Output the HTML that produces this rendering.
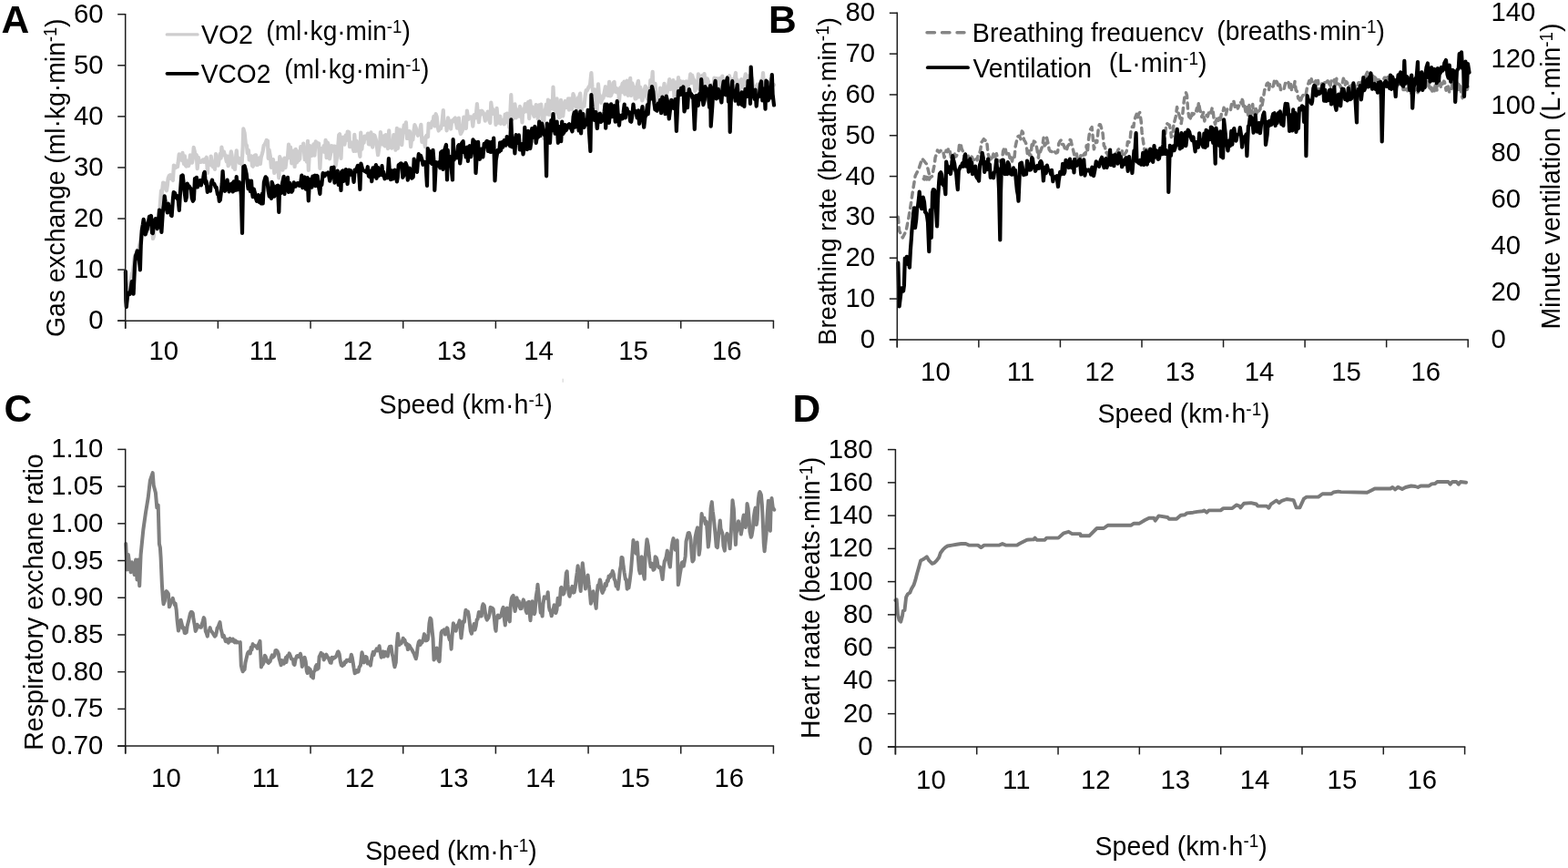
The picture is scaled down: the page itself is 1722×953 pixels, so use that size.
<!DOCTYPE html>
<html><head><meta charset="utf-8"><title>Figure</title>
<style>html,body{margin:0;padding:0;background:#fff;overflow:hidden}svg{display:block}</style>
</head><body>
<svg width="1722" height="953" viewBox="0 0 1722 953" font-family="'Liberation Sans', Arial, sans-serif" fill="#000"><rect width="1722" height="953" fill="#fff"/><path d="M138.8 332.6L139.7 326.8L140.7 320.4L141.7 314.4L143.0 307.8L143.9 306.3L144.9 300.1L145.7 299.9L146.9 289.8L147.6 283.6L148.6 279.9L150.0 280.0L150.6 274.6L152.0 275.7L153.0 270.0L153.9 266.2L154.6 261.4L155.7 255.6L157.0 243.9L157.8 242.3L158.9 249.5L159.6 254.9L160.6 255.1L161.8 252.7L162.9 248.3L163.8 239.9L164.6 237.2L166.0 241.3L166.6 244.6L168.0 262.0L168.8 259.8L169.7 250.8L170.8 244.0L172.0 241.4L172.8 251.3L173.8 242.6L175.0 241.6L175.7 226.1L177.0 209.4L177.7 213.5L179.1 200.6L180.0 206.5L180.6 201.1L182.0 206.6L183.0 209.3L184.0 202.1L184.6 196.0L185.7 193.0L186.9 192.1L187.8 196.1L188.6 194.9L189.9 198.0L190.9 181.5L192.0 182.7L192.6 184.3L193.7 183.6L195.0 183.1L195.6 178.9L196.7 169.4L197.8 169.9L198.8 171.9L199.8 176.1L200.5 167.9L201.9 179.8L202.9 171.4L203.8 181.8L204.7 182.6L205.8 176.7L207.0 182.2L208.0 179.2L208.9 170.4L209.8 178.0L211.0 178.6L211.9 174.0L212.7 161.9L213.8 166.6L214.6 172.1L215.8 170.0L216.7 185.2L217.9 172.9L219.0 177.7L220.0 177.9L221.0 177.9L221.6 177.4L222.9 175.4L224.0 177.8L225.0 174.8L225.8 174.4L226.8 172.8L228.0 190.0L228.6 178.2L230.0 178.0L231.0 180.8L231.7 171.5L233.0 182.0L233.7 182.9L234.6 182.2L235.9 185.9L237.0 169.1L237.6 181.0L239.0 175.7L239.7 181.7L240.6 174.6L241.7 168.8L242.6 173.6L243.4 161.6L244.7 170.5L245.9 166.5L246.8 169.8L247.6 171.5L248.8 177.3L250.0 171.5L250.6 182.1L252.0 179.7L252.6 175.7L253.8 166.4L254.6 170.6L256.0 183.8L256.8 175.4L258.0 186.0L258.9 174.4L259.8 165.3L260.7 177.3L262.0 173.6L263.0 179.2L263.9 178.3L265.0 174.0L265.6 180.2L266.7 160.8L267.3 141.4L268.6 146.0L269.8 158.0L271.0 159.9L271.7 168.1L272.9 165.0L273.7 175.5L274.9 175.8L276.0 171.4L277.0 182.0L277.8 182.7L278.7 178.0L279.6 170.8L281.0 170.3L282.0 181.1L282.8 181.0L283.9 175.0L284.7 173.5L285.9 179.9L286.7 172.9L287.9 168.9L288.6 166.2L289.7 159.8L290.7 158.8L291.2 157.8L292.7 154.0L294.0 154.6L294.7 173.9L295.6 164.5L296.9 172.1L297.9 183.8L298.7 180.6L300.0 175.1L301.3 190.0L301.8 186.9L303.0 188.1L304.0 178.8L305.0 182.5L306.3 195.4L307.2 172.2L308.0 174.2L309.1 176.1L310.5 186.6L311.7 179.3L312.4 173.5L313.5 184.1L314.9 173.4L315.9 173.7L317.0 158.6L318.0 172.8L319.0 161.6L320.3 179.3L321.3 172.4L322.4 165.6L323.6 183.0L324.8 163.8L325.9 178.5L327.0 166.4L327.7 176.4L329.2 174.5L330.2 161.1L331.5 161.8L332.6 163.9L333.2 157.5L334.8 175.2L335.6 169.1L336.9 177.6L338.0 154.8L338.8 187.0L340.3 160.1L341.3 168.1L342.5 170.8L343.4 163.6L344.4 158.4L345.4 170.7L346.7 155.4L347.9 156.7L348.9 159.1L350.1 157.4L351.4 185.0L352.5 165.4L353.3 163.1L354.6 166.3L355.6 160.2L356.8 167.1L357.6 153.8L358.6 173.2L359.9 156.6L360.9 159.6L362.0 174.3L363.5 166.9L364.2 160.0L365.6 165.6L366.3 160.6L367.7 160.6L368.6 181.9L369.7 175.1L370.8 166.3L372.2 148.2L373.1 147.3L374.5 174.0L375.5 150.8L376.4 154.7L377.3 150.7L378.4 158.7L379.8 148.3L380.8 153.8L381.7 144.5L383.3 145.2L384.0 161.2L385.4 160.4L386.2 156.6L387.5 162.3L388.5 165.9L389.3 147.8L390.8 165.9L391.7 154.9L392.9 165.3L394.1 163.7L395.4 172.0L396.2 145.5L397.4 163.8L398.4 152.9L399.6 156.7L400.4 149.5L402.0 149.9L402.6 152.1L404.0 146.6L404.8 158.2L405.9 158.5L407.4 145.4L408.4 152.1L409.2 161.6L410.4 148.2L411.4 148.6L412.9 153.6L414.0 161.5L415.1 170.2L416.1 163.7L417.2 156.7L417.9 145.0L419.1 155.3L420.3 158.5L421.5 149.3L422.8 160.3L423.7 148.0L424.7 152.7L426.0 163.1L427.2 143.4L428.1 161.6L429.2 158.7L430.2 162.6L431.5 158.0L432.3 148.2L433.7 156.8L434.5 164.7L435.9 140.9L436.9 162.9L438.2 145.8L439.1 142.4L440.4 153.2L441.3 159.1L442.1 148.6L443.8 137.4L444.7 144.2L445.9 134.3L447.0 152.0L447.7 143.8L449.2 146.0L449.9 144.3L451.1 161.2L452.1 152.4L453.4 153.3L454.3 144.8L455.4 137.1L456.7 140.2L457.6 145.7L458.9 148.8L460.1 145.4L460.8 144.4L462.4 136.8L463.4 156.0L464.5 151.5L465.6 153.2L466.9 161.1L467.5 150.4L468.6 148.6L470.0 150.2L470.7 135.7L472.2 136.0L473.3 140.1L474.5 133.6L475.2 136.0L476.4 127.8L477.7 138.4L478.6 125.1L479.7 128.3L480.7 139.3L481.7 143.5L483.1 141.2L484.0 141.2L485.3 136.5L486.8 121.0L487.5 136.9L488.7 134.7L489.9 134.4L490.6 143.3L492.0 129.4L493.1 132.8L494.1 138.0L495.1 141.5L496.1 132.5L497.3 133.6L498.5 130.9L499.9 129.5L500.6 133.3L502.0 140.6L503.1 138.7L503.9 129.7L505.1 143.0L505.9 147.0L507.6 143.7L508.4 141.4L509.3 128.7L510.8 132.2L511.9 141.0L512.9 121.7L514.2 131.0L514.9 129.5L516.1 128.4L517.2 128.4L518.4 130.7L519.3 138.6L520.6 126.3L521.6 125.9L522.6 129.3L523.9 114.1L524.8 125.5L525.9 134.2L527.4 122.2L528.1 125.7L529.2 121.7L530.7 123.8L531.7 126.1L532.8 132.7L533.5 125.4L535.0 128.0L535.7 122.5L537.1 131.6L538.3 135.0L539.3 112.7L540.1 118.7L541.5 120.3L542.3 125.2L543.8 122.8L544.5 136.9L545.6 118.8L546.8 134.9L548.0 130.7L549.3 127.6L550.0 135.8L551.5 132.9L552.4 131.7L553.8 136.3L554.7 125.6L555.5 134.5L556.8 124.6L558.0 125.4L559.2 139.7L560.1 129.9L561.3 104.1L562.4 129.1L563.2 130.6L564.6 122.5L565.5 114.4L566.8 129.3L567.6 120.3L568.8 126.7L569.9 127.6L571.0 116.9L572.5 120.8L573.5 134.3L574.2 122.2L575.5 123.1L576.8 114.1L577.9 115.2L578.6 122.3L580.0 112.2L581.2 130.2L582.3 110.8L583.2 122.3L584.3 117.3L585.2 123.9L586.6 127.8L587.5 122.9L588.6 115.2L589.8 115.8L590.7 130.5L592.0 115.3L593.0 122.6L594.2 114.6L595.1 124.9L597.0 152.0L597.7 121.6L598.7 122.3L599.9 114.5L601.0 125.3L601.9 109.7L603.1 125.9L603.9 112.0L605.2 110.8L606.6 119.5L607.5 95.7L608.8 120.5L609.5 117.7L610.5 122.8L611.6 108.4L612.6 125.2L614.1 129.1L615.2 128.5L616.0 109.8L617.5 123.4L618.3 127.4L619.4 115.8L620.7 111.0L621.4 118.1L622.8 118.0L624.0 108.3L625.0 120.7L626.0 108.4L627.4 114.9L628.3 119.8L629.4 103.1L630.4 105.6L631.9 116.3L632.5 116.1L633.7 119.1L635.0 107.3L635.9 107.2L637.2 102.6L638.3 124.6L639.3 116.6L640.6 116.4L641.6 116.6L642.7 104.9L643.7 99.1L644.8 99.5L646.1 96.4L647.2 94.5L648.0 93.5L649.4 80.0L650.4 95.2L651.4 102.2L652.5 103.2L653.6 98.5L655.0 140.0L656.1 107.1L657.0 92.4L657.8 103.1L659.0 105.3L660.1 112.8L661.6 107.5L662.4 108.0L663.6 101.8L664.9 95.2L665.9 104.3L666.7 101.4L667.8 104.9L669.1 89.9L670.1 105.4L670.9 105.1L672.3 101.3L673.6 91.0L674.6 90.0L675.4 100.6L676.8 96.7L677.6 101.4L679.2 98.5L680.0 110.9L681.3 96.1L682.3 98.1L683.6 91.7L684.4 101.3L685.5 89.7L686.4 103.5L687.8 90.9L688.7 88.6L689.8 104.8L691.0 95.8L692.2 85.9L693.0 105.0L694.3 91.3L695.1 94.8L696.2 95.5L697.6 108.5L698.8 108.0L699.8 93.3L701.0 88.9L702.2 106.5L703.1 95.5L704.4 100.7L705.3 110.5L706.6 105.9L707.6 99.5L708.7 94.6L709.7 96.7L711.0 108.3L712.0 103.8L713.2 108.1L714.3 88.2L715.3 97.7L716.7 78.8L717.6 105.8L718.6 100.4L719.5 91.8L720.9 110.1L721.7 105.5L722.6 104.9L724.2 113.4L725.0 96.5L726.1 110.2L727.3 109.8L728.2 102.9L729.5 91.8L730.5 99.0L731.4 104.8L732.7 101.4L734.0 94.5L735.2 87.1L736.2 98.1L737.5 90.5L738.4 95.6L739.3 88.0L740.6 108.2L741.7 109.4L742.9 90.2L743.8 102.3L745.0 85.0L745.8 101.0L747.0 88.8L748.2 91.9L749.2 91.7L750.3 89.7L751.4 92.1L752.7 103.9L753.7 89.4L754.7 106.4L755.7 94.3L757.2 89.4L758.2 81.4L759.3 91.1L760.1 82.5L761.0 86.0L762.4 88.3L763.3 100.0L764.5 95.6L766.1 96.0L766.9 81.3L768.1 97.8L769.3 92.7L770.2 83.6L771.5 82.7L772.5 90.1L773.5 81.1L774.8 92.9L775.5 93.2L776.7 86.3L777.9 89.5L778.9 95.6L779.9 102.2L781.2 100.4L782.4 92.5L783.3 101.2L784.4 85.7L785.7 99.1L787.0 86.0L787.7 91.3L788.7 97.2L790.1 86.0L791.1 85.9L792.3 94.7L793.3 83.5L794.6 98.0L795.6 102.0L796.6 96.7L797.8 104.8L798.9 96.3L799.7 84.6L801.0 83.2L801.9 89.7L803.3 93.1L804.3 87.3L805.6 88.8L806.4 87.5L808.0 80.0L808.5 89.7L809.6 87.7L810.8 102.5L811.9 104.7L813.1 91.6L814.1 87.1L815.4 92.5L816.6 96.0L817.7 86.6L818.8 81.3L819.5 88.4L820.6 88.9L822.1 83.3L823.2 96.1L824.4 86.2L825.4 84.9L826.3 87.4L827.3 99.0L828.2 95.8L829.6 96.3L830.5 95.2L831.8 92.6L832.7 103.5L833.8 97.7L835.0 92.1L836.2 87.9L837.1 91.6L838.0 80.0L839.7 104.2L840.6 94.6L841.9 103.9L842.7 97.4L843.7 96.9L844.9 96.3L846.3 86.9L847.3 97.6L848.2 91.8L850.0 93.2" fill="none" stroke="#cecdce" stroke-width="4.2" stroke-linejoin="round" stroke-linecap="round" /><path d="M137.9 298.0L138.3 330.0L138.8 337.1L140.0 325.2L140.8 321.9L141.7 321.3L142.6 323.0L143.7 316.3L144.8 309.0L145.6 318.6L146.6 322.7L148.0 291.9L148.9 281.2L149.7 278.9L150.8 275.5L152.0 281.0L153.0 286.0L153.9 296.3L154.7 269.7L155.8 252.9L156.9 246.6L157.7 240.9L158.8 245.6L159.7 257.5L161.0 252.7L161.6 251.9L162.9 244.1L164.0 237.8L164.7 241.6L166.0 236.9L167.0 255.6L167.8 256.0L168.9 245.7L169.6 242.0L170.8 240.1L171.8 246.4L172.7 251.1L173.7 246.3L175.0 230.7L175.7 239.4L176.6 243.8L177.4 254.8L178.8 232.7L179.9 224.9L180.7 215.4L181.7 222.1L182.9 229.0L183.8 233.4L184.8 223.7L185.7 227.8L186.6 226.9L188.0 236.6L188.6 237.0L190.0 217.7L190.7 211.1L192.0 211.8L192.7 216.6L194.0 214.7L194.8 218.2L195.7 219.1L196.8 230.8L197.9 212.1L199.3 193.0L199.8 195.1L200.7 192.4L201.9 203.4L202.6 210.5L203.9 220.2L204.9 216.3L205.7 201.6L206.9 206.3L207.6 204.2L208.7 206.3L209.9 207.5L210.7 217.3L211.9 220.8L212.9 219.0L214.0 196.1L215.0 205.1L215.9 194.9L217.0 205.5L217.6 203.1L218.9 202.7L220.0 198.0L220.8 203.5L221.8 199.0L222.8 198.3L224.0 190.2L224.7 188.9L225.8 201.5L226.6 199.1L227.8 210.8L228.9 205.6L230.0 205.3L231.0 209.6L231.7 201.0L233.0 197.7L233.6 201.2L235.0 201.7L235.6 202.6L236.8 205.9L237.6 205.7L239.0 213.4L240.0 214.1L240.8 220.8L241.8 219.7L242.7 212.3L243.8 201.3L244.6 188.0L245.6 201.7L247.0 209.8L247.7 208.0L248.8 205.5L249.6 197.7L250.6 204.7L251.6 210.4L252.7 208.2L254.0 201.8L255.0 201.3L255.8 210.5L256.8 199.4L257.9 202.5L259.0 208.8L259.7 194.0L260.9 208.3L261.7 199.6L262.8 200.0L263.9 203.9L264.8 213.7L266.0 256.0L266.9 203.9L267.3 183.0L268.6 182.3L269.6 185.8L270.7 191.2L271.7 200.4L272.6 207.2L273.7 198.5L274.9 210.0L276.0 198.5L276.7 209.7L277.7 216.2L278.8 207.6L279.9 211.7L280.9 217.5L282.0 220.8L282.7 217.5L283.9 214.2L284.7 221.8L286.2 220.8L286.7 223.4L288.0 212.7L288.7 223.3L289.9 200.0L291.2 195.6L291.7 194.3L292.8 195.6L293.6 200.3L294.6 209.1L295.8 215.7L296.8 210.5L298.0 218.0L298.6 199.9L299.8 203.4L301.3 215.7L301.8 207.4L302.9 213.9L303.8 204.5L305.0 203.6L306.3 233.0L307.1 204.9L308.3 212.2L309.0 208.2L310.2 200.5L311.7 193.8L312.4 213.0L313.5 201.1L315.0 203.4L316.0 194.9L316.9 211.0L318.1 200.8L319.3 208.4L320.2 210.7L321.2 209.3L322.7 200.3L323.7 204.4L324.7 204.7L326.0 201.7L326.9 201.2L328.3 201.4L328.9 203.9L330.2 200.6L331.3 192.7L332.3 206.2L333.6 195.3L334.5 194.4L335.9 207.6L337.0 198.5L337.7 195.1L338.8 220.5L340.0 197.5L341.0 196.9L342.5 205.7L343.4 193.6L344.3 193.7L345.7 192.7L346.5 204.1L348.0 192.9L348.7 193.6L349.7 202.8L351.4 213.0L352.1 200.1L353.3 203.0L354.6 190.1L355.6 191.0L356.5 193.3L357.4 190.6L358.6 191.4L360.2 189.5L361.0 191.5L362.2 198.7L363.0 196.4L364.0 184.1L365.6 189.9L366.5 183.5L367.5 200.6L368.6 197.4L369.6 196.7L370.7 187.6L371.7 202.9L373.3 195.7L374.5 209.0L375.1 188.6L376.5 187.4L377.3 198.9L378.4 198.0L379.8 186.0L381.0 196.5L381.6 202.0L383.2 186.6L383.9 190.5L385.0 187.2L386.0 191.8L387.3 190.6L388.6 199.9L389.6 186.5L390.9 188.4L391.6 185.6L392.8 181.8L393.9 184.6L395.4 208.0L396.4 179.5L397.2 182.6L398.4 187.0L399.4 187.0L400.7 188.1L401.4 188.0L402.6 189.2L403.8 183.2L404.9 193.3L406.3 194.4L407.3 187.5L408.3 199.2L409.5 184.3L410.6 193.7L411.8 185.5L412.9 181.1L413.6 195.8L415.0 183.8L415.8 192.9L417.1 192.2L418.4 190.8L419.5 182.2L420.5 192.6L421.2 188.9L422.5 196.3L423.5 192.9L425.1 192.0L425.7 195.3L426.9 174.2L428.0 191.1L429.0 197.1L430.5 187.3L431.5 196.4L432.3 191.2L433.6 186.7L434.5 191.7L435.9 199.4L436.8 194.6L437.7 181.3L438.9 180.5L440.2 179.3L441.4 180.2L442.3 194.9L443.6 192.1L444.5 182.1L445.5 179.1L446.7 182.0L447.8 197.6L449.2 191.1L449.9 184.6L451.0 189.8L452.3 195.7L453.7 194.5L454.7 174.7L455.7 181.8L456.5 185.8L458.0 188.8L459.0 176.6L459.8 169.2L461.1 175.3L462.0 170.9L463.5 175.7L464.5 180.8L465.7 177.8L466.7 178.1L467.6 180.3L469.0 204.0L469.8 163.1L470.8 171.4L472.0 166.1L473.2 178.5L474.2 179.8L475.5 164.8L476.6 179.0L477.3 209.0L478.8 178.1L479.7 179.4L481.0 181.7L481.9 178.1L483.3 184.4L484.2 167.2L485.3 166.2L486.5 185.9L487.5 166.2L488.5 163.8L490.0 159.0L491.0 197.5L491.8 164.9L493.0 180.0L493.8 171.8L495.0 178.5L497.0 197.5L497.6 153.2L498.6 175.4L499.8 170.6L500.8 172.5L501.7 173.2L503.0 160.4L503.9 159.1L505.2 179.4L506.1 171.4L507.1 157.3L508.6 155.1L509.6 167.1L510.7 163.6L511.7 172.4L513.0 161.7L513.9 176.8L515.0 161.7L515.9 160.2L517.2 172.2L518.5 163.4L519.5 153.3L520.7 158.9L521.6 155.5L522.5 190.0L523.6 172.8L525.1 155.9L525.9 170.9L526.9 174.8L528.3 163.6L529.3 170.9L530.4 172.4L531.7 157.9L532.4 161.4L533.8 156.1L534.8 154.9L535.9 165.8L537.0 155.9L537.9 166.7L539.2 166.8L540.5 155.5L541.2 165.8L542.2 151.7L543.5 198.5L544.7 175.9L546.1 168.0L546.6 164.8L548.3 166.5L549.1 156.7L550.0 165.1L551.3 156.1L552.2 161.6L553.6 154.1L554.6 154.5L555.6 159.6L556.7 150.0L558.1 157.9L559.1 150.5L560.1 160.3L561.3 131.4L562.4 161.3L563.7 155.4L564.3 151.8L565.4 168.4L566.6 148.2L567.8 155.6L568.7 156.8L569.8 148.4L570.9 164.4L572.1 161.6L573.4 158.2L574.5 169.3L575.2 165.2L576.3 139.9L577.7 162.6L579.0 163.9L580.1 143.8L580.9 156.2L582.3 163.0L583.4 155.5L584.2 141.0L585.5 150.8L586.4 144.0L587.4 139.0L588.7 156.9L589.6 151.6L591.0 150.6L592.2 133.6L593.3 149.1L594.2 143.9L595.1 135.7L596.6 142.2L597.7 148.0L598.9 147.8L600.1 193.3L600.9 135.7L601.8 143.7L602.8 140.5L604.0 156.9L605.3 132.0L606.2 143.4L607.5 125.0L608.5 136.3L609.6 146.7L611.0 145.6L611.6 133.6L612.9 156.9L613.8 148.0L615.3 138.8L616.2 155.1L617.2 133.5L618.2 147.0L619.6 145.0L620.5 137.1L621.5 143.3L622.5 141.6L623.8 137.3L625.0 136.2L626.1 139.7L627.4 141.6L628.5 144.4L629.6 128.3L630.7 123.5L631.6 139.6L632.7 122.1L633.7 133.0L634.8 134.4L635.7 143.5L637.3 122.4L638.1 146.5L639.0 127.2L640.4 125.1L641.6 139.8L642.6 131.5L643.6 136.7L644.9 134.6L645.7 120.8L646.7 139.8L648.4 166.0L649.4 104.1L650.5 117.5L651.4 124.4L652.7 131.9L653.3 123.2L654.4 123.2L655.9 141.0L656.7 132.0L657.8 125.6L658.9 124.8L660.1 133.9L661.2 131.7L662.4 132.3L663.7 122.3L664.5 114.7L665.2 140.7L666.8 114.6L667.6 116.9L668.9 134.9L670.0 123.9L671.1 114.3L672.1 128.1L673.4 123.2L674.6 116.2L675.7 133.6L677.0 126.0L677.7 111.2L679.0 131.2L680.0 137.7L680.9 126.8L682.4 128.3L683.4 130.4L684.6 123.8L685.7 114.7L686.8 129.4L687.5 121.2L688.5 119.2L689.7 123.6L691.0 123.2L692.2 133.1L693.2 133.7L694.3 126.8L695.5 114.5L696.3 120.8L697.7 121.9L698.5 123.0L699.7 129.4L701.0 121.3L702.1 135.8L703.0 125.0L704.1 126.1L705.5 117.0L706.3 132.0L707.2 139.7L708.5 128.2L709.4 126.9L711.0 115.2L711.7 125.2L713.3 104.2L713.9 99.8L715.1 108.5L716.0 95.0L717.3 100.4L718.4 113.3L719.4 120.2L720.6 120.9L721.5 121.6L722.7 113.5L724.2 119.3L725.0 109.9L726.1 124.1L727.4 106.7L728.6 117.0L729.4 108.2L730.5 125.1L731.8 105.6L733.0 110.9L734.0 123.0L734.8 130.4L735.9 120.9L737.3 109.9L738.4 114.3L739.6 118.8L740.7 112.8L741.6 109.1L742.9 143.9L744.0 118.5L745.0 100.0L746.0 104.1L747.2 103.9L748.1 96.9L749.2 98.4L750.4 95.5L751.5 122.5L752.7 117.4L753.9 103.0L755.0 118.2L755.8 105.7L756.9 98.0L758.3 103.9L759.1 103.2L760.5 107.6L761.2 105.2L762.8 141.8L763.6 123.9L764.9 104.8L766.0 105.9L766.7 116.0L768.1 103.0L769.2 109.1L770.2 87.2L771.5 105.5L772.4 115.1L773.8 109.4L774.4 95.2L775.7 101.5L776.7 97.6L778.0 105.1L779.1 117.7L780.1 94.1L780.7 138.6L782.3 116.6L783.3 98.9L784.7 94.4L785.6 88.9L786.7 108.3L787.7 107.1L788.8 97.9L790.2 106.0L791.0 106.7L792.4 112.4L793.4 97.7L794.7 89.4L795.3 95.6L796.8 104.1L797.8 89.5L798.8 85.5L800.0 111.6L801.1 104.0L801.7 145.0L803.3 97.3L804.2 89.2L805.1 106.5L806.6 99.9L807.6 110.7L808.9 98.6L809.7 93.1L811.1 114.3L812.3 106.9L813.3 113.6L814.5 101.4L815.1 115.3L816.2 101.7L817.4 116.9L818.5 97.9L819.5 101.5L820.6 105.9L821.6 88.9L823.2 97.8L824.0 113.8L824.7 73.6L826.3 106.0L827.5 101.7L828.7 108.8L829.5 98.6L830.7 116.6L831.6 107.3L832.8 106.4L833.8 105.7L835.0 92.6L836.1 89.5L837.3 110.3L838.3 101.0L839.4 97.5L840.5 119.7L841.4 88.7L842.5 90.1L843.7 110.3L845.2 98.6L846.2 107.3L847.8 82.0L848.6 103.5L850.0 115.5" fill="none" stroke="#000" stroke-width="4.2" stroke-linejoin="round" stroke-linecap="round" /><path d="M986.3 238.3L987.6 253.4L991.3 261.0L995.1 253.4L997.6 240.8L1000.1 225.7L1002.7 208.1L1005.2 193.0L1009.0 185.5L1012.7 174.1L1017.8 180.4L1021.5 195.5L1013.0 193.3L1014.4 196.5L1015.2 196.9L1016.4 194.8L1017.8 197.1L1019.2 194.0L1020.3 197.0L1021.7 194.9L1022.3 194.5L1023.8 193.3L1024.9 187.2L1026.3 180.4L1027.1 173.0L1028.5 169.1L1029.5 165.0L1031.3 167.0L1032.3 166.4L1033.4 165.2L1034.9 165.0L1035.7 165.9L1037.0 173.0L1038.2 169.4L1039.1 165.2L1040.3 166.6L1041.7 162.7L1043.1 165.7L1044.2 171.1L1045.2 177.7L1046.5 173.6L1048.0 167.8L1048.9 172.3L1050.2 171.6L1051.3 169.3L1052.8 166.3L1053.7 157.6L1055.1 157.9L1056.1 163.4L1057.6 166.4L1058.7 170.8L1059.5 171.3L1061.1 172.9L1062.4 171.6L1063.5 171.3L1064.4 170.8L1065.8 180.1L1067.3 172.1L1068.4 175.2L1069.6 175.5L1070.3 175.1L1071.6 172.6L1073.1 175.9L1074.1 170.9L1075.2 170.3L1076.7 164.8L1078.1 156.0L1078.9 155.0L1080.4 152.7L1081.5 153.9L1082.7 154.5L1083.6 154.4L1085.1 169.0L1086.2 172.2L1087.3 173.8L1088.6 176.6L1090.1 171.9L1091.0 169.1L1092.2 174.2L1093.2 171.0L1094.3 168.7L1095.9 175.0L1096.9 176.6L1098.1 177.0L1099.5 177.2L1100.6 176.8L1101.5 166.4L1103.2 161.6L1104.3 164.0L1105.1 169.1L1106.5 165.9L1107.7 168.7L1109.1 173.5L1110.3 171.2L1111.5 177.1L1112.6 171.3L1114.0 173.4L1115.1 161.2L1116.0 156.9L1117.5 150.4L1118.8 149.2L1119.8 149.5L1120.9 152.8L1122.3 144.0L1123.4 145.5L1124.5 153.5L1125.9 155.6L1127.1 158.4L1128.3 168.5L1129.5 164.3L1130.6 170.2L1132.1 170.1L1133.2 158.5L1134.3 161.5L1135.4 155.1L1136.8 155.9L1138.1 159.9L1138.8 163.4L1140.4 173.2L1141.3 164.3L1142.4 166.8L1144.0 162.6L1144.8 160.5L1146.1 151.3L1147.1 159.9L1148.7 158.0L1149.6 151.3L1151.3 158.6L1152.2 164.3L1153.6 166.1L1154.3 166.2L1155.6 166.7L1156.8 164.7L1157.9 166.2L1159.6 167.9L1160.4 167.8L1161.5 167.0L1162.8 157.5L1164.1 155.0L1165.5 153.6L1166.4 158.5L1167.7 158.5L1168.8 161.1L1170.1 165.0L1171.3 165.5L1172.6 160.1L1173.9 159.1L1174.7 153.4L1176.0 153.8L1177.1 158.9L1178.6 164.9L1179.8 170.3L1181.1 168.5L1182.2 167.5L1183.2 173.9L1184.7 174.8L1186.0 178.0L1187.0 169.3L1188.4 168.9L1189.5 170.8L1190.7 168.9L1192.0 169.7L1193.2 159.8L1194.4 167.0L1195.3 154.6L1196.4 146.7L1197.6 142.0L1199.1 139.6L1200.1 149.7L1201.4 163.8L1202.7 159.3L1203.9 154.4L1204.8 156.2L1206.4 139.6L1207.5 136.7L1208.5 137.0L1209.8 141.5L1211.1 146.5L1212.4 160.2L1213.4 161.0L1214.6 167.9L1215.7 167.4L1217.1 172.2L1218.5 167.8L1219.2 167.2L1220.8 176.6L1222.0 171.0L1223.1 169.7L1224.4 170.0L1225.2 166.7L1226.3 174.5L1227.7 164.8L1229.0 163.2L1230.3 168.6L1231.2 169.6L1232.6 165.2L1233.9 169.7L1234.7 169.8L1236.3 167.5L1237.2 166.3L1238.4 155.7L1239.9 156.2L1241.2 152.2L1242.0 144.2L1243.5 139.1L1244.9 139.4L1245.6 133.4L1246.8 128.9L1248.2 125.4L1249.1 130.4L1250.6 124.9L1251.7 123.5L1253.2 133.2L1254.1 145.4L1255.2 153.3L1256.9 164.9L1257.6 168.5L1259.2 163.2L1260.5 173.0L1261.3 172.2L1262.6 169.1L1263.7 167.2L1264.7 167.0L1266.1 169.1L1267.1 164.3L1268.6 173.5L1269.8 164.9L1271.0 174.5L1272.3 167.5L1273.6 171.7L1274.9 169.1L1275.6 163.7L1277.0 157.9L1278.5 158.9L1279.1 152.6L1280.7 137.6L1281.6 135.6L1283.2 136.8L1284.3 137.4L1285.7 143.5L1286.4 150.5L1287.9 148.6L1289.2 133.5L1289.9 133.4L1291.2 128.1L1292.6 117.6L1293.8 123.0L1295.1 126.7L1296.3 130.9L1297.2 135.6L1298.7 126.4L1299.9 114.1L1301.2 104.8L1302.5 101.8L1303.5 104.8L1304.6 120.7L1305.7 128.1L1307.1 129.4L1308.0 131.3L1309.2 124.4L1310.6 125.6L1311.8 124.0L1313.1 124.7L1314.4 118.9L1315.2 123.6L1316.4 112.5L1317.7 120.4L1318.8 123.5L1319.9 128.5L1321.6 123.4L1322.8 132.9L1324.1 126.6L1325.1 126.6L1326.3 128.0L1327.5 123.7L1328.8 121.0L1330.1 123.9L1331.2 118.4L1332.1 121.4L1333.2 131.6L1334.6 136.4L1336.0 128.8L1336.8 132.2L1337.9 132.4L1339.4 128.0L1340.3 131.6L1341.8 122.0L1343.2 122.1L1344.1 118.2L1345.4 122.9L1346.3 125.9L1347.8 119.4L1348.9 119.8L1349.9 119.7L1351.4 121.1L1352.4 115.0L1354.0 110.6L1354.9 111.2L1356.3 117.7L1357.6 114.7L1358.6 116.7L1359.5 119.0L1361.0 115.0L1362.2 111.7L1363.6 113.7L1364.5 107.2L1365.6 118.5L1366.7 115.9L1368.5 125.3L1369.7 117.8L1370.7 126.2L1371.8 115.6L1373.3 126.7L1374.4 124.4L1375.7 114.5L1376.4 123.6L1378.0 125.0L1379.0 117.4L1380.0 124.7L1381.2 120.4L1382.5 121.8L1383.9 120.0L1385.2 107.5L1386.1 115.5L1387.5 107.5L1388.8 98.4L1389.5 98.7L1391.2 92.1L1392.4 91.0L1393.5 98.7L1394.5 92.2L1395.5 92.7L1397.2 95.5L1398.4 94.4L1399.7 87.5L1400.9 90.7L1401.9 89.4L1402.9 91.2L1403.9 96.1L1405.5 93.2L1406.5 98.6L1407.5 97.3L1409.1 96.1L1410.2 97.5L1411.5 91.6L1412.6 91.6L1413.9 93.3L1415.0 90.6L1416.2 96.6L1417.6 92.2L1418.5 99.1L1419.8 97.4L1421.0 96.9L1422.0 89.5L1423.2 99.0L1424.3 100.1L1425.8 108.3L1426.8 107.7L1428.0 112.6L1429.4 107.3L1430.5 105.3L1432.0 103.7L1433.1 103.1L1434.1 104.5L1435.5 96.0L1436.5 92.8L1437.8 88.7L1439.0 93.1L1440.2 86.7L1441.3 92.0L1442.5 91.5L1443.5 91.4L1444.9 88.9L1446.0 94.5L1447.5 88.5L1448.8 100.8L1449.9 96.8L1450.9 99.2L1452.2 89.7L1453.5 94.8L1454.5 91.4L1455.8 87.9L1456.7 90.2L1458.1 88.8L1459.5 91.2L1460.7 95.9L1462.0 88.9L1462.7 89.1L1464.5 86.0L1465.1 86.8L1466.7 95.3L1467.8 86.3L1468.8 91.6L1469.9 92.3L1471.6 93.4L1472.5 96.2L1473.9 93.2L1475.3 86.3L1476.1 88.1L1477.4 93.1L1478.5 89.6L1479.6 90.9L1481.2 98.8L1482.0 93.7L1483.4 103.1L1484.4 93.4L1485.5 97.2L1486.9 94.8L1488.0 94.1L1489.1 98.9L1490.7 97.9L1491.8 91.0L1492.8 90.7L1494.4 94.5L1495.6 89.9L1496.5 94.2L1497.8 87.0L1498.9 91.2L1500.0 82.8L1501.6 79.3L1502.4 88.2L1504.0 86.7L1505.1 80.4L1506.2 88.6L1507.6 83.2L1508.4 91.1L1509.6 82.4L1511.1 88.2L1512.1 87.0L1513.6 93.9L1514.6 85.6L1515.6 91.7L1517.0 95.9L1518.2 98.9L1519.5 87.4L1520.4 85.2L1521.7 85.2L1522.9 89.5L1524.4 84.6L1525.5 85.6L1526.8 88.6L1527.6 82.7L1528.8 86.1L1530.4 93.7L1531.1 87.7L1532.4 95.8L1533.8 95.5L1535.1 90.7L1536.1 93.0L1537.7 91.6L1538.7 91.7L1539.6 89.7L1541.1 98.6L1542.1 97.2L1543.4 99.3L1544.7 96.5L1545.8 99.6L1547.2 96.1L1548.1 95.5L1549.6 101.7L1550.7 103.8L1552.0 100.7L1552.7 102.1L1554.0 96.2L1555.3 101.5L1556.8 102.4L1558.0 99.4L1558.7 98.3L1560.1 93.7L1561.5 98.6L1562.6 88.3L1564.1 88.9L1564.8 82.3L1566.0 95.5L1567.3 87.6L1568.5 88.0L1569.6 94.7L1570.9 100.0L1572.1 96.2L1573.2 101.7L1574.8 102.0L1575.9 94.9L1577.0 90.8L1578.0 99.4L1579.2 88.9L1580.3 86.2L1581.9 94.3L1583.0 96.3L1584.3 91.7L1585.7 89.2L1586.4 89.8L1588.1 99.2L1588.8 94.9L1590.0 92.8L1591.6 100.8L1592.4 99.8L1594.0 100.1L1594.8 91.0L1596.0 91.1L1597.4 89.1L1598.7 92.7L1600.1 87.3L1601.0 100.4L1602.3 91.2L1603.7 93.6L1604.3 99.4L1606.1 107.7L1606.8 100.7L1608.1 97.5L1609.3 95.5L1610.5 101.1L1612.0 95.1" fill="none" stroke="#858585" stroke-width="3.5" stroke-linejoin="round" stroke-linecap="round" stroke-dasharray="6 5.5"/><path d="M986.3 288.7L987.6 336.5L990.0 316.4L990.0 318.9L991.2 316.9L992.1 319.5L992.9 313.4L993.8 283.6L995.2 285.8L995.8 281.9L997.2 290.2L998.1 289.4L998.9 293.7L999.9 274.5L1000.9 261.3L1001.4 253.4L1003.0 236.1L1003.9 228.3L1005.0 250.2L1006.2 241.3L1007.1 228.5L1008.1 226.1L1009.2 216.6L1009.7 210.6L1010.8 222.6L1012.1 229.2L1012.8 228.7L1013.8 216.7L1015.0 221.8L1016.0 232.8L1017.2 234.0L1018.1 237.4L1019.0 244.0L1020.3 276.1L1020.9 247.3L1021.8 230.7L1022.8 261.0L1024.1 211.3L1024.9 208.2L1025.9 208.3L1026.8 210.8L1028.2 233.5L1029.1 248.4L1029.9 220.7L1031.2 199.7L1032.0 190.7L1033.2 189.2L1034.1 191.8L1035.1 202.2L1035.8 203.0L1037.0 202.0L1038.4 213.2L1039.2 177.6L1039.9 181.5L1041.0 184.5L1041.8 188.8L1042.9 183.3L1043.9 190.9L1044.8 185.7L1046.2 171.2L1046.9 174.9L1048.2 179.7L1049.0 186.2L1050.1 189.6L1051.1 201.4L1051.8 208.1L1052.8 187.3L1054.0 184.7L1054.9 182.6L1056.0 182.8L1056.8 179.5L1058.2 182.6L1058.9 174.6L1060.1 169.4L1060.9 182.6L1062.2 176.3L1063.1 180.6L1063.8 188.6L1065.2 174.4L1066.2 181.1L1067.2 178.5L1068.0 191.2L1068.8 184.1L1069.8 185.3L1071.2 182.7L1072.0 193.1L1072.8 195.0L1074.2 196.5L1075.1 198.6L1076.0 181.5L1076.9 178.7L1078.0 173.9L1078.7 167.8L1079.8 173.4L1081.2 188.9L1082.0 183.6L1083.0 178.0L1083.9 186.2L1085.1 174.5L1085.8 185.5L1086.9 180.5L1087.8 194.9L1088.8 190.4L1090.2 191.2L1091.1 195.3L1092.0 189.0L1093.0 187.8L1094.2 175.5L1094.9 182.9L1096.0 185.7L1097.1 208.1L1098.3 263.5L1099.0 212.7L1100.1 176.0L1101.2 177.7L1101.8 175.7L1103.2 185.9L1103.8 191.2L1105.1 183.1L1106.2 191.2L1106.8 178.2L1108.0 180.5L1109.2 188.8L1109.8 190.9L1111.1 191.6L1112.1 191.4L1113.0 184.4L1114.1 191.6L1114.9 186.7L1115.8 197.8L1116.9 208.8L1117.8 213.6L1118.5 220.7L1120.2 179.7L1121.0 179.1L1121.9 178.7L1122.9 184.2L1124.2 192.1L1125.0 189.9L1126.2 188.7L1127.0 191.3L1128.0 176.6L1129.2 186.3L1130.1 180.5L1131.0 186.6L1132.0 186.2L1133.2 173.1L1134.0 174.6L1135.2 183.6L1135.8 182.8L1137.0 187.8L1138.0 185.6L1139.2 182.0L1139.9 182.7L1141.2 184.8L1142.1 178.4L1143.1 176.9L1144.1 179.2L1145.2 188.4L1145.9 198.5L1146.9 187.8L1147.9 183.6L1148.8 190.1L1149.9 181.6L1151.0 186.5L1153.0 187.6L1154.2 191.4L1155.0 186.8L1156.4 199.2L1157.3 194.7L1158.5 194.5L1159.9 193.6L1160.5 193.3L1162.0 205.0L1162.7 198.4L1164.2 188.9L1165.2 190.3L1166.1 191.1L1167.1 179.9L1168.5 190.8L1169.3 188.7L1170.5 175.9L1171.8 177.1L1172.6 178.0L1173.8 184.0L1175.0 174.7L1176.2 180.1L1177.1 184.0L1178.6 177.9L1179.5 189.4L1180.2 174.8L1181.5 181.2L1182.4 181.8L1184.0 177.6L1184.7 176.4L1185.9 175.2L1187.3 191.5L1188.1 177.9L1189.0 180.5L1190.3 175.3L1191.4 192.6L1192.6 186.2L1193.8 187.0L1194.8 187.4L1195.6 186.5L1197.2 187.8L1198.1 191.6L1199.3 183.7L1200.2 187.9L1201.1 193.2L1202.4 186.7L1203.8 177.3L1205.0 180.7L1205.8 180.4L1207.1 182.9L1208.1 178.0L1208.8 175.6L1210.1 172.8L1211.1 177.9L1212.5 184.1L1213.3 180.8L1214.5 174.1L1215.5 183.9L1217.0 177.6L1218.1 179.7L1219.1 164.7L1219.9 181.2L1221.3 171.5L1222.3 171.1L1223.4 182.2L1224.7 170.0L1225.7 177.6L1226.6 171.2L1227.6 179.6L1228.8 168.3L1229.8 178.0L1231.0 172.4L1232.1 183.2L1233.2 178.2L1234.4 180.6L1235.4 175.0L1236.8 173.2L1237.7 177.5L1238.7 187.9L1240.0 172.0L1240.8 181.8L1242.4 179.8L1243.4 190.0L1244.3 178.7L1245.5 165.4L1246.2 171.9L1247.6 146.0L1248.5 177.4L1249.9 178.1L1251.0 179.3L1252.2 175.9L1253.3 180.7L1254.5 176.1L1255.2 167.9L1256.3 181.0L1257.6 168.4L1258.7 165.7L1259.8 180.6L1260.9 170.8L1261.8 176.9L1263.2 163.5L1263.9 170.1L1265.2 174.9L1266.2 177.8L1267.5 160.2L1268.3 172.6L1269.7 167.8L1270.4 165.4L1272.0 174.9L1273.0 174.1L1274.2 162.8L1275.3 168.8L1276.4 169.1L1277.5 158.9L1278.0 144.0L1279.3 169.0L1280.4 164.8L1281.6 167.6L1282.7 168.8L1283.3 211.0L1284.8 159.9L1285.9 170.9L1287.0 161.8L1288.4 160.5L1289.6 165.2L1290.7 161.9L1291.4 149.6L1292.7 141.8L1293.8 159.2L1294.7 152.0L1295.9 163.3L1297.4 146.0L1298.2 162.0L1299.3 158.1L1300.5 153.7L1301.7 145.5L1302.4 160.1L1303.9 146.8L1304.7 142.7L1306.2 145.0L1306.8 147.8L1308.3 152.1L1309.2 154.1L1310.5 150.5L1311.3 156.5L1312.6 166.3L1313.4 156.0L1314.5 156.0L1316.0 161.6L1317.1 146.3L1318.0 155.2L1319.3 153.8L1320.2 158.7L1321.4 161.3L1322.4 146.6L1323.6 161.8L1324.6 142.8L1325.8 160.2L1326.7 144.3L1327.8 148.2L1328.9 153.2L1329.9 139.5L1331.3 140.5L1332.2 157.0L1333.4 147.0L1334.7 179.6L1335.5 140.6L1336.9 152.3L1337.6 156.9L1339.0 159.7L1340.1 144.4L1341.0 172.0L1342.0 157.2L1343.1 173.3L1344.1 131.4L1345.7 146.5L1346.5 157.5L1347.6 160.3L1348.5 165.5L1349.9 154.3L1351.0 160.2L1352.3 143.9L1353.3 158.6L1354.4 144.5L1355.3 141.1L1356.6 149.3L1357.5 154.6L1358.8 148.1L1359.5 147.6L1360.8 146.9L1361.8 140.0L1363.1 148.8L1364.1 161.6L1365.4 150.7L1366.5 153.1L1367.4 150.3L1368.5 147.7L1369.4 171.2L1370.9 138.7L1371.8 137.4L1372.9 128.2L1373.8 128.4L1375.2 130.8L1376.6 145.7L1377.4 142.6L1378.7 126.3L1379.5 137.7L1380.8 144.7L1381.6 135.3L1382.8 135.1L1383.9 146.2L1385.2 135.0L1386.2 132.1L1387.2 126.2L1388.3 123.4L1389.3 135.2L1390.0 159.0L1391.6 148.3L1392.7 133.6L1394.0 137.9L1394.7 132.7L1396.4 136.8L1397.3 128.3L1398.2 125.1L1399.6 124.3L1400.7 138.0L1401.4 132.6L1402.7 135.0L1403.9 124.0L1405.0 132.1L1405.8 122.4L1407.3 136.3L1408.1 134.3L1409.4 137.9L1410.3 125.0L1411.7 113.9L1412.5 125.1L1413.9 114.1L1414.8 120.4L1416.1 143.8L1416.8 126.1L1417.8 136.9L1419.2 143.4L1420.2 120.3L1421.5 132.2L1422.4 124.1L1423.4 144.8L1424.9 136.0L1425.9 141.0L1426.9 119.0L1428.1 118.7L1428.9 120.4L1429.9 116.3L1431.5 117.7L1432.1 134.0L1433.8 120.8L1434.4 171.2L1435.6 105.0L1436.7 109.3L1438.1 110.7L1439.0 111.7L1440.4 114.0L1441.1 111.2L1442.3 97.2L1443.3 94.0L1444.4 94.7L1445.5 104.8L1446.7 103.0L1448.0 100.6L1448.8 103.0L1450.1 101.6L1450.9 101.6L1452.4 94.2L1453.1 93.1L1454.1 110.7L1455.3 98.9L1456.4 110.9L1457.5 104.4L1458.7 110.2L1460.1 99.0L1461.2 98.5L1462.0 114.5L1463.0 112.5L1464.4 111.9L1465.3 95.4L1466.3 115.2L1467.5 120.8L1468.5 111.6L1470.0 103.5L1470.9 108.7L1472.2 116.3L1473.3 101.9L1474.1 97.6L1475.5 97.8L1476.6 104.6L1477.3 109.2L1478.8 105.9L1479.7 110.4L1480.8 96.9L1481.7 106.5L1482.8 109.0L1484.0 108.4L1485.0 104.9L1486.4 91.3L1487.5 105.8L1488.3 105.6L1490.0 134.4L1490.5 101.9L1491.7 97.9L1492.9 98.9L1493.8 94.2L1494.9 109.3L1496.3 96.5L1497.3 85.2L1498.3 99.1L1499.5 95.9L1500.7 89.8L1502.0 87.0L1502.8 95.4L1503.7 85.9L1505.5 80.5L1506.2 93.7L1507.1 97.7L1508.2 93.8L1509.6 92.0L1510.6 97.8L1511.7 95.0L1512.9 101.7L1513.8 90.8L1515.0 91.0L1516.1 90.0L1516.9 111.1L1517.7 155.5L1519.1 95.3L1520.4 91.0L1521.7 89.1L1522.7 94.9L1523.6 92.9L1524.8 91.3L1526.0 96.9L1526.9 82.7L1528.1 97.9L1529.3 84.5L1530.3 92.0L1531.2 87.5L1532.7 106.0L1533.6 91.6L1534.5 92.5L1535.6 82.3L1536.8 82.5L1538.1 79.5L1539.0 92.2L1540.3 93.8L1541.3 94.6L1542.3 66.8L1543.2 91.9L1544.4 84.0L1545.6 84.6L1547.0 90.2L1548.2 99.0L1549.2 98.5L1550.2 82.6L1551.2 118.7L1552.5 94.3L1553.1 94.2L1554.5 86.1L1555.6 85.9L1557.0 68.0L1557.7 99.7L1559.1 95.2L1559.9 82.8L1561.3 79.3L1562.3 98.8L1563.3 93.1L1564.6 96.1L1565.3 82.4L1566.5 74.2L1567.9 69.5L1568.8 85.1L1569.6 81.8L1570.7 89.6L1572.1 74.1L1573.3 80.7L1574.3 88.5L1575.2 75.8L1576.5 81.3L1577.8 91.2L1578.9 75.1L1580.0 88.7L1580.7 81.5L1581.8 80.2L1582.9 73.8L1584.1 77.7L1585.4 75.9L1586.3 69.2L1588.0 66.0L1588.8 74.0L1589.5 81.6L1590.6 85.5L1591.7 71.5L1593.2 89.7L1594.3 78.7L1595.3 77.0L1596.5 77.9L1597.6 88.3L1598.2 111.9L1599.9 78.2L1600.6 76.5L1601.8 75.1L1602.7 59.0L1603.9 71.8L1605.0 57.3L1606.0 74.9L1607.1 70.7L1608.0 106.0L1609.5 67.5L1611.0 95.0L1612.0 70.0L1613.5 79.6" fill="none" stroke="#000" stroke-width="4.2" stroke-linejoin="round" stroke-linecap="round" /><path d="M138.2 596.9L139.5 625.5L140.9 609.0L143.6 628.2L145.0 617.3L147.7 631.0L149.1 614.6L150.5 636.4L151.8 614.6L153.2 643.2L154.6 609.0L157.3 581.9L160.0 562.8L162.7 546.4L164.9 527.3L167.7 519.1L168.7 532.7L170.9 540.9L172.3 557.3L173.7 554.6L173.7 554.7L174.9 597.2L175.9 601.3L176.6 612.2L177.9 642.1L178.9 657.0L179.6 663.2L180.9 659.8L181.6 650.7L182.7 649.2L183.5 649.8L184.9 651.8L185.9 666.3L186.7 664.6L187.7 660.0L188.6 659.7L189.8 656.9L190.5 659.6L191.9 664.2L192.6 662.6L193.7 669.6L194.6 681.2L195.9 692.5L196.7 690.2L197.6 684.1L198.6 680.7L199.8 685.7L200.8 689.7L201.7 689.0L202.7 694.9L203.5 695.2L204.7 694.4L205.7 687.2L206.9 682.6L207.7 679.1L208.9 673.6L209.7 672.1L210.8 672.0L211.8 673.4L212.5 679.4L213.7 685.9L214.7 693.0L215.8 690.7L216.6 685.8L217.9 687.8L218.9 687.7L219.7 688.7L220.9 688.7L221.7 685.5L222.8 682.1L223.8 678.1L224.5 679.4L225.8 693.1L226.5 694.5L227.8 698.6L228.6 693.3L229.9 692.3L230.7 689.1L231.5 692.4L232.5 693.4L233.9 695.4L234.5 696.4L235.9 698.7L236.8 697.8L237.8 694.5L238.6 689.4L239.8 687.9L240.6 685.5L241.5 683.1L242.5 690.2L243.6 694.4L244.5 699.2L245.7 697.6L246.9 701.0L247.8 704.2L248.7 704.2L249.9 702.2L250.9 705.8L251.9 702.4L252.5 701.1L253.9 703.7L254.7 703.6L255.8 701.6L256.6 704.2L257.8 705.3L258.5 703.3L259.8 705.5L260.6 704.8L261.8 705.4L262.6 705.8L263.8 705.2L264.8 730.5L265.6 734.1L266.7 737.3L267.5 736.0L268.6 735.0L269.5 727.5L270.5 723.3L271.8 717.7L272.8 715.8L273.8 715.1L274.8 717.5L275.7 710.7L276.5 713.4L277.6 707.1L278.5 709.0L279.9 708.9L280.9 709.7L281.6 710.1L282.7 711.8L283.6 708.1L284.8 705.8L285.5 703.8L286.9 732.5L287.8 729.4L288.5 729.7L289.8 726.9L290.8 719.7L291.6 720.7L292.8 724.3L293.8 726.6L294.9 727.9L295.6 727.2L296.7 726.1L297.8 722.0L298.9 719.4L299.5 721.8L300.9 720.5L301.7 719.0L302.5 714.1L303.5 713.9L304.8 715.4L305.9 718.1L306.6 723.2L307.5 726.2L308.6 730.3L309.5 725.1L310.7 725.8L311.9 728.6L312.7 726.4L313.9 721.9L314.5 726.9L315.6 720.1L316.7 720.3L317.7 717.3L318.9 720.0L319.9 723.4L320.7 723.4L321.9 724.4L322.5 729.0L323.5 729.9L324.5 724.3L325.8 720.6L326.5 720.0L327.6 720.0L328.5 721.2L329.9 717.7L330.5 719.7L331.8 732.0L332.6 729.4L333.9 728.7L334.6 721.7L335.7 726.2L336.8 736.6L337.6 739.0L338.7 733.2L339.9 734.5L340.8 735.3L341.7 742.5L342.6 743.0L343.9 744.5L344.5 737.6L345.8 736.4L346.6 732.0L347.6 730.1L348.5 734.7L349.8 733.5L350.6 721.1L351.6 719.0L352.6 716.8L353.7 719.7L354.6 718.3L355.7 724.5L356.5 722.7L357.7 720.4L358.5 718.7L359.9 722.0L360.5 722.0L361.6 724.8L362.8 727.6L363.7 727.8L364.5 721.7L365.6 723.6L366.8 721.7L367.6 722.1L368.8 721.1L369.9 718.9L370.8 716.0L371.5 715.3L372.7 718.2L373.8 726.3L374.8 730.4L375.9 731.1L376.5 728.5L377.8 729.8L378.7 726.9L379.8 727.2L380.8 724.7L381.7 725.6L382.8 724.8L383.8 724.0L384.5 726.0L385.8 718.7L386.7 721.6L387.8 728.2L388.6 733.5L389.7 739.3L390.8 738.4L391.8 736.1L392.8 737.8L393.6 737.4L394.6 732.3L395.9 730.5L396.8 722.1L397.5 716.2L398.6 720.5L399.5 727.4L400.7 726.5L401.6 720.9L402.7 721.6L403.8 728.6L404.9 726.6L405.7 727.0L406.9 730.6L407.5 726.5L408.8 719.2L409.8 715.8L410.5 719.1L411.6 715.3L412.6 714.8L413.6 712.4L414.8 714.4L415.8 713.2L416.6 709.2L417.6 715.8L418.7 721.7L419.6 720.7L420.8 715.4L421.9 720.9L422.9 715.8L423.5 716.8L424.6 716.7L425.8 720.5L426.8 712.9L427.9 710.1L428.8 712.8L429.5 709.6L430.7 718.3L431.5 721.0L432.8 729.5L433.5 732.3L434.8 727.3L435.6 709.9L436.9 695.8L437.8 703.2L438.5 708.1L439.5 706.7L440.5 706.6L441.5 704.7L442.7 700.7L443.8 702.9L444.5 702.7L445.7 707.8L446.8 706.6L447.9 713.1L448.6 708.1L449.7 708.7L450.5 710.5L451.7 712.4L452.7 713.9L453.5 715.6L454.6 717.3L455.7 720.5L456.8 723.3L457.6 719.7L458.8 709.6L459.8 704.8L460.9 703.6L461.6 708.0L462.7 705.3L463.5 705.5L464.9 701.3L465.9 696.1L466.8 698.7L467.7 703.4L468.6 703.1L469.8 702.1L470.6 695.4L471.5 684.0L472.5 678.6L473.5 680.1L474.7 693.2L475.5 700.6L476.5 724.5L477.5 722.9L478.8 715.8L479.6 711.4L480.8 717.9L481.5 724.7L482.6 726.2L483.8 706.1L484.6 694.7L485.6 692.6L486.8 692.4L487.7 691.4L488.9 696.5L489.6 692.0L490.9 689.3L491.5 689.9L492.7 698.4L493.7 702.2L494.6 700.0L495.6 712.7L496.5 699.2L497.8 684.3L498.9 687.3L499.8 690.3L500.7 692.7L501.6 688.0L502.6 686.3L503.5 685.1L504.7 681.3L505.8 693.9L506.5 700.6L507.8 689.4L508.7 682.2L509.9 682.7L510.9 673.4L511.5 669.7L512.7 672.1L513.9 671.6L514.6 674.4L515.6 682.4L516.8 692.8L517.9 695.7L518.9 691.3L519.5 690.4L520.5 685.0L521.6 691.6L522.7 687.2L523.7 680.3L524.5 680.0L525.9 671.9L526.8 676.5L527.5 675.3L528.8 676.3L529.6 666.3L530.5 663.2L531.8 664.7L532.9 672.5L533.5 677.2L534.8 680.6L535.6 679.4L536.5 678.2L537.8 673.2L538.6 666.8L539.5 669.1L540.5 667.5L541.7 668.9L542.9 679.6L543.9 690.0L544.6 692.7L545.5 680.9L546.8 675.5L547.8 676.9L548.5 678.1L549.9 676.3L550.5 675.0L551.9 668.5L552.7 666.8L553.5 676.9L554.8 686.5L555.8 668.9L556.9 667.6L557.7 670.4L558.5 679.6L559.8 682.3L560.7 664.8L561.8 657.0L562.6 655.1L563.7 653.9L564.5 664.0L565.6 671.1L566.5 666.3L567.5 656.2L568.6 661.3L569.8 660.2L570.5 665.5L571.5 668.2L572.8 668.0L573.5 663.3L574.8 658.4L575.8 661.2L576.7 662.3L577.5 670.6L578.5 673.0L579.7 661.5L580.9 660.8L581.5 672.6L582.5 681.3L583.9 664.1L584.5 660.3L585.7 666.6L586.8 674.2L587.5 672.1L588.6 655.9L589.9 647.7L590.5 641.8L591.7 653.8L592.9 665.1L593.7 672.8L594.6 671.2L595.6 676.6L596.5 663.3L597.7 655.2L598.5 656.1L599.6 656.8L600.8 656.4L601.7 650.2L602.9 666.1L603.7 670.1L604.5 670.4L605.7 676.3L606.7 673.0L607.9 667.8L608.6 664.2L609.5 667.8L610.5 673.0L611.5 669.4L612.6 656.8L613.6 664.3L614.5 663.8L615.9 645.7L616.5 644.9L617.5 649.5L618.5 652.5L619.5 651.2L620.5 644.9L621.8 629.4L622.7 627.4L623.5 641.7L624.7 652.0L625.5 654.8L626.6 650.1L627.9 645.4L628.5 643.9L629.8 650.6L630.6 650.4L631.7 645.0L632.7 635.7L633.8 628.2L634.6 621.2L635.8 629.9L636.6 640.7L637.7 649.1L638.8 628.9L639.8 618.3L640.9 628.0L641.8 636.5L642.9 646.6L643.8 638.2L644.9 637.9L645.6 631.4L646.7 641.9L647.7 649.6L648.9 662.8L649.9 656.3L650.5 652.8L651.5 649.2L652.6 657.9L653.8 662.4L654.7 667.9L655.8 650.6L656.6 642.7L657.5 644.2L658.9 636.4L659.6 638.9L660.5 647.8L661.6 650.9L662.6 648.5L663.5 647.2L664.5 641.0L665.8 643.0L666.8 637.3L667.8 637.8L668.6 632.4L669.8 634.0L670.8 630.9L671.6 631.3L672.7 626.9L673.9 630.5L674.6 635.8L675.5 637.2L676.6 643.6L677.5 640.7L678.6 646.7L679.7 637.9L680.9 625.7L681.8 621.4L682.5 611.9L683.6 612.4L684.6 621.4L685.6 628.5L686.9 636.1L687.8 636.3L688.7 646.7L689.5 642.4L690.5 645.4L691.6 638.0L692.9 627.3L693.9 614.5L694.9 601.3L695.5 593.1L696.9 600.1L697.7 605.4L698.5 607.6L699.7 595.4L700.9 613.2L701.9 625.7L702.9 629.4L703.6 612.8L704.7 611.4L705.9 622.6L706.5 629.6L707.8 635.8L708.6 613.4L709.6 600.8L710.5 592.2L711.9 599.5L712.5 606.6L713.6 616.1L714.6 622.2L715.7 618.6L716.5 620.1L717.5 625.8L718.8 624.5L719.6 611.2L720.8 612.4L721.5 614.4L722.6 621.9L723.7 623.1L724.8 622.6L725.5 623.5L726.6 630.0L727.6 636.1L728.6 625.2L729.7 616.4L730.8 614.1L731.7 611.1L732.8 604.6L733.6 609.2L734.6 617.4L735.9 622.5L736.9 609.5L737.7 600.7L738.6 594.9L739.5 591.1L740.9 598.2L741.7 603.8L742.8 597.5L743.7 593.3L744.8 642.1L745.6 638.3L746.8 630.3L747.8 624.3L748.8 617.9L749.8 617.1L750.8 621.6L751.9 615.6L752.7 610.7L753.5 594.5L754.6 590.0L755.7 585.1L756.9 584.9L757.9 588.7L758.5 592.4L759.8 610.4L760.5 616.5L761.8 614.7L762.6 603.1L763.5 589.8L764.7 584.2L765.9 579.4L766.7 589.0L767.7 609.0L768.6 603.0L769.6 579.5L770.6 564.1L771.8 571.2L772.8 571.3L773.5 568.8L774.7 575.2L775.8 572.5L776.6 582.4L777.8 600.5L778.8 592.9L779.5 581.0L780.6 558.1L781.8 551.1L782.7 561.2L783.5 566.6L784.6 576.5L785.9 590.3L786.7 600.2L787.9 601.1L788.8 591.7L789.6 581.7L790.8 571.4L791.5 580.3L792.9 584.3L793.6 587.2L794.5 599.6L795.8 604.6L796.8 593.6L797.7 588.8L798.5 585.9L799.9 590.1L800.8 593.8L801.6 602.3L802.9 583.0L803.7 566.4L804.5 549.2L805.8 558.7L806.8 578.4L807.9 598.1L808.6 585.1L809.8 580.9L810.9 572.2L811.5 575.6L812.9 579.0L813.8 586.6L814.9 580.3L815.6 571.5L816.7 565.5L817.5 575.2L818.7 579.0L819.5 575.3L820.5 553.0L821.6 558.2L822.8 572.7L823.5 583.8L824.8 589.7L825.5 588.4L826.8 580.5L827.8 567.9L828.9 560.5L829.6 557.6L830.8 576.0L831.6 570.8L832.8 548.5L833.7 541.9L834.5 540.0L835.9 543.3L836.9 554.5L837.9 575.4L838.8 596.9L839.6 605.2L840.5 596.2L841.6 586.0L842.5 567.9L843.8 549.7L844.5 577.7L845.9 582.8L846.7 554.6L847.5 547.0L848.7 557.1L850.3 559.7" fill="none" stroke="#7f7f7f" stroke-width="4.0" stroke-linejoin="round" stroke-linecap="round" /><path d="M983.4 659.1L984.7 658.3L985.9 674.2L987.6 680.9L989.3 682.6L991.0 675.9L991.8 670.8L993.5 670.0L995.1 655.7L996.8 652.3L999.3 650.7L1001.0 646.5L1003.5 642.3L1005.2 637.2L1006.9 630.5L1008.6 624.6L1011.1 615.4L1014.5 613.7L1017.8 611.2L1020.3 615.4L1023.7 618.8L1026.2 617.9L1028.7 615.4L1031.2 612.0L1032.9 607.0L1035.4 603.7L1038.0 601.1L1040.5 599.5L1045.5 598.6L1050.6 597.8L1055.6 597.0L1060.6 597.0L1064.0 598.6L1069.0 598.6L1074.0 598.6L1077.4 601.1L1080.8 598.6L1090.8 598.6L1097.6 598.6L1100.9 597.0L1104.3 598.6L1109.3 598.6L1116.9 598.6L1119.4 597.0L1122.8 595.3L1127.8 592.7L1130.0 592.5L1135.1 592.4L1136.6 590.6L1138.9 592.9L1147.2 592.9L1149.4 590.6L1162.3 590.6L1168.3 585.3L1173.6 583.8L1177.4 586.1L1186.4 586.1L1186.9 588.3L1196.2 588.3L1204.6 580.0L1212.1 580.0L1216.6 576.7L1242.3 576.7L1245.3 574.7L1251.4 574.7L1257.4 571.0L1261.9 568.7L1267.2 568.7L1268.7 571.7L1272.5 566.4L1282.3 568.0L1283.8 569.8L1292.1 569.8L1296.7 565.7L1301.2 565.2L1303.5 563.4L1310.3 562.7L1314.8 561.9L1320.8 561.2L1322.3 560.4L1325.3 562.7L1327.6 560.4L1340.5 560.4L1343.5 558.1L1353.3 558.1L1357.8 554.4L1361.6 555.9L1362.3 557.4L1366.1 552.8L1373.8 552.1L1379.7 553.5L1381.3 555.6L1391.1 555.6L1393.4 557.7L1395.7 553.6L1401.7 549.5L1404.7 552.1L1407.7 549.8L1413.0 548.0L1420.6 549.1L1423.6 557.4L1427.4 557.4L1431.9 547.6L1434.9 545.6L1447.8 545.6L1452.3 542.3L1462.1 542.3L1464.4 540.5L1469.7 539.6L1472.7 540.1L1501.4 540.8L1507.4 537.7L1509.7 536.5L1527.0 536.5L1529.3 535.0L1532.3 537.4L1535.3 534.7L1539.9 537.0L1543.6 535.0L1549.7 533.5L1554.2 534.0L1557.2 535.0L1560.2 533.5L1569.3 533.5L1572.3 531.4L1576.1 531.0L1578.4 529.0L1590.5 529.0L1592.7 531.7L1595.0 529.0L1599.5 529.0L1601.8 531.7L1604.0 529.0L1610.1 529.7" fill="none" stroke="#7a7a7a" stroke-width="3.9" stroke-linejoin="round" stroke-linecap="round" /><line x1="137.70" y1="15.00" x2="137.70" y2="360.70" stroke="#1e1e1e" stroke-width="1.5"/><line x1="129.20" y1="352.20" x2="850.10" y2="352.20" stroke="#1e1e1e" stroke-width="1.5"/><line x1="129.20" y1="352.20" x2="137.70" y2="352.20" stroke="#1e1e1e" stroke-width="1.5"/><line x1="129.20" y1="296.12" x2="137.70" y2="296.12" stroke="#1e1e1e" stroke-width="1.5"/><line x1="129.20" y1="240.03" x2="137.70" y2="240.03" stroke="#1e1e1e" stroke-width="1.5"/><line x1="129.20" y1="183.95" x2="137.70" y2="183.95" stroke="#1e1e1e" stroke-width="1.5"/><line x1="129.20" y1="127.87" x2="137.70" y2="127.87" stroke="#1e1e1e" stroke-width="1.5"/><line x1="129.20" y1="71.78" x2="137.70" y2="71.78" stroke="#1e1e1e" stroke-width="1.5"/><line x1="129.20" y1="15.70" x2="137.70" y2="15.70" stroke="#1e1e1e" stroke-width="1.5"/><line x1="137.70" y1="352.20" x2="137.70" y2="360.70" stroke="#1e1e1e" stroke-width="1.5"/><line x1="239.37" y1="352.20" x2="239.37" y2="360.70" stroke="#1e1e1e" stroke-width="1.5"/><line x1="341.04" y1="352.20" x2="341.04" y2="360.70" stroke="#1e1e1e" stroke-width="1.5"/><line x1="442.71" y1="352.20" x2="442.71" y2="360.70" stroke="#1e1e1e" stroke-width="1.5"/><line x1="544.39" y1="352.20" x2="544.39" y2="360.70" stroke="#1e1e1e" stroke-width="1.5"/><line x1="646.06" y1="352.20" x2="646.06" y2="360.70" stroke="#1e1e1e" stroke-width="1.5"/><line x1="747.73" y1="352.20" x2="747.73" y2="360.70" stroke="#1e1e1e" stroke-width="1.5"/><line x1="849.40" y1="352.20" x2="849.40" y2="360.70" stroke="#1e1e1e" stroke-width="1.5"/><text x="113.60" y="361.20" font-size="29.3" text-anchor="end" >0</text><text x="113.60" y="305.12" font-size="29.3" text-anchor="end" >10</text><text x="113.60" y="249.03" font-size="29.3" text-anchor="end" >20</text><text x="113.60" y="192.95" font-size="29.3" text-anchor="end" >30</text><text x="113.60" y="136.87" font-size="29.3" text-anchor="end" >40</text><text x="113.60" y="80.78" font-size="29.3" text-anchor="end" >50</text><text x="113.60" y="24.70" font-size="29.3" text-anchor="end" >60</text><text x="179.80" y="395.10" font-size="29.3" text-anchor="middle" >10</text><text x="289.00" y="395.10" font-size="29.3" text-anchor="middle" >11</text><text x="392.80" y="395.10" font-size="29.3" text-anchor="middle" >12</text><text x="496.10" y="395.10" font-size="29.3" text-anchor="middle" >13</text><text x="591.50" y="395.10" font-size="29.3" text-anchor="middle" >14</text><text x="695.50" y="395.10" font-size="29.3" text-anchor="middle" >15</text><text x="798.20" y="395.10" font-size="29.3" text-anchor="middle" >16</text><line x1="985.30" y1="13.60" x2="985.30" y2="381.40" stroke="#1e1e1e" stroke-width="1.5"/><line x1="976.80" y1="372.90" x2="1612.90" y2="372.90" stroke="#1e1e1e" stroke-width="1.5"/><line x1="976.80" y1="372.90" x2="985.30" y2="372.90" stroke="#1e1e1e" stroke-width="1.5"/><line x1="976.80" y1="328.07" x2="985.30" y2="328.07" stroke="#1e1e1e" stroke-width="1.5"/><line x1="976.80" y1="283.25" x2="985.30" y2="283.25" stroke="#1e1e1e" stroke-width="1.5"/><line x1="976.80" y1="238.42" x2="985.30" y2="238.42" stroke="#1e1e1e" stroke-width="1.5"/><line x1="976.80" y1="193.60" x2="985.30" y2="193.60" stroke="#1e1e1e" stroke-width="1.5"/><line x1="976.80" y1="148.78" x2="985.30" y2="148.78" stroke="#1e1e1e" stroke-width="1.5"/><line x1="976.80" y1="103.95" x2="985.30" y2="103.95" stroke="#1e1e1e" stroke-width="1.5"/><line x1="976.80" y1="59.12" x2="985.30" y2="59.12" stroke="#1e1e1e" stroke-width="1.5"/><line x1="976.80" y1="14.30" x2="985.30" y2="14.30" stroke="#1e1e1e" stroke-width="1.5"/><line x1="985.30" y1="372.90" x2="985.30" y2="381.40" stroke="#1e1e1e" stroke-width="1.5"/><line x1="1074.86" y1="372.90" x2="1074.86" y2="381.40" stroke="#1e1e1e" stroke-width="1.5"/><line x1="1164.41" y1="372.90" x2="1164.41" y2="381.40" stroke="#1e1e1e" stroke-width="1.5"/><line x1="1253.97" y1="372.90" x2="1253.97" y2="381.40" stroke="#1e1e1e" stroke-width="1.5"/><line x1="1343.53" y1="372.90" x2="1343.53" y2="381.40" stroke="#1e1e1e" stroke-width="1.5"/><line x1="1433.09" y1="372.90" x2="1433.09" y2="381.40" stroke="#1e1e1e" stroke-width="1.5"/><line x1="1522.64" y1="372.90" x2="1522.64" y2="381.40" stroke="#1e1e1e" stroke-width="1.5"/><line x1="1612.20" y1="372.90" x2="1612.20" y2="381.40" stroke="#1e1e1e" stroke-width="1.5"/><text x="961.10" y="381.90" font-size="29.3" text-anchor="end" >0</text><text x="961.10" y="337.07" font-size="29.3" text-anchor="end" >10</text><text x="961.10" y="292.25" font-size="29.3" text-anchor="end" >20</text><text x="961.10" y="247.42" font-size="29.3" text-anchor="end" >30</text><text x="961.10" y="202.60" font-size="29.3" text-anchor="end" >40</text><text x="961.10" y="157.78" font-size="29.3" text-anchor="end" >50</text><text x="961.10" y="112.95" font-size="29.3" text-anchor="end" >60</text><text x="961.10" y="68.12" font-size="29.3" text-anchor="end" >70</text><text x="961.10" y="23.30" font-size="29.3" text-anchor="end" >80</text><text x="1027.40" y="418.20" font-size="29.3" text-anchor="middle" >10</text><text x="1121.00" y="418.20" font-size="29.3" text-anchor="middle" >11</text><text x="1207.80" y="418.20" font-size="29.3" text-anchor="middle" >12</text><text x="1296.10" y="418.20" font-size="29.3" text-anchor="middle" >13</text><text x="1383.00" y="418.20" font-size="29.3" text-anchor="middle" >14</text><text x="1478.50" y="418.20" font-size="29.3" text-anchor="middle" >15</text><text x="1565.70" y="418.20" font-size="29.3" text-anchor="middle" >16</text><text x="1637.40" y="381.60" font-size="29.3" text-anchor="start" >0</text><text x="1637.40" y="330.37" font-size="29.3" text-anchor="start" >20</text><text x="1637.40" y="279.14" font-size="29.3" text-anchor="start" >40</text><text x="1637.40" y="227.91" font-size="29.3" text-anchor="start" >60</text><text x="1637.40" y="176.69" font-size="29.3" text-anchor="start" >80</text><text x="1637.40" y="125.46" font-size="29.3" text-anchor="start" >100</text><text x="1637.40" y="74.23" font-size="29.3" text-anchor="start" >120</text><text x="1637.40" y="23.00" font-size="29.3" text-anchor="start" >140</text><line x1="137.70" y1="492.70" x2="137.70" y2="827.60" stroke="#1e1e1e" stroke-width="1.5"/><line x1="129.20" y1="819.10" x2="850.10" y2="819.10" stroke="#1e1e1e" stroke-width="1.5"/><line x1="129.20" y1="819.10" x2="137.70" y2="819.10" stroke="#1e1e1e" stroke-width="1.5"/><line x1="129.20" y1="778.39" x2="137.70" y2="778.39" stroke="#1e1e1e" stroke-width="1.5"/><line x1="129.20" y1="737.67" x2="137.70" y2="737.67" stroke="#1e1e1e" stroke-width="1.5"/><line x1="129.20" y1="696.96" x2="137.70" y2="696.96" stroke="#1e1e1e" stroke-width="1.5"/><line x1="129.20" y1="656.25" x2="137.70" y2="656.25" stroke="#1e1e1e" stroke-width="1.5"/><line x1="129.20" y1="615.54" x2="137.70" y2="615.54" stroke="#1e1e1e" stroke-width="1.5"/><line x1="129.20" y1="574.83" x2="137.70" y2="574.83" stroke="#1e1e1e" stroke-width="1.5"/><line x1="129.20" y1="534.11" x2="137.70" y2="534.11" stroke="#1e1e1e" stroke-width="1.5"/><line x1="129.20" y1="493.40" x2="137.70" y2="493.40" stroke="#1e1e1e" stroke-width="1.5"/><line x1="137.70" y1="819.10" x2="137.70" y2="827.60" stroke="#1e1e1e" stroke-width="1.5"/><line x1="239.37" y1="819.10" x2="239.37" y2="827.60" stroke="#1e1e1e" stroke-width="1.5"/><line x1="341.04" y1="819.10" x2="341.04" y2="827.60" stroke="#1e1e1e" stroke-width="1.5"/><line x1="442.71" y1="819.10" x2="442.71" y2="827.60" stroke="#1e1e1e" stroke-width="1.5"/><line x1="544.39" y1="819.10" x2="544.39" y2="827.60" stroke="#1e1e1e" stroke-width="1.5"/><line x1="646.06" y1="819.10" x2="646.06" y2="827.60" stroke="#1e1e1e" stroke-width="1.5"/><line x1="747.73" y1="819.10" x2="747.73" y2="827.60" stroke="#1e1e1e" stroke-width="1.5"/><line x1="849.40" y1="819.10" x2="849.40" y2="827.60" stroke="#1e1e1e" stroke-width="1.5"/><text x="113.30" y="828.10" font-size="29.3" text-anchor="end" >0.70</text><text x="113.30" y="787.39" font-size="29.3" text-anchor="end" >0.75</text><text x="113.30" y="746.67" font-size="29.3" text-anchor="end" >0.80</text><text x="113.30" y="705.96" font-size="29.3" text-anchor="end" >0.85</text><text x="113.30" y="665.25" font-size="29.3" text-anchor="end" >0.90</text><text x="113.30" y="624.54" font-size="29.3" text-anchor="end" >0.95</text><text x="113.30" y="583.83" font-size="29.3" text-anchor="end" >1.00</text><text x="113.30" y="543.11" font-size="29.3" text-anchor="end" >1.05</text><text x="113.30" y="502.40" font-size="29.3" text-anchor="end" >1.10</text><text x="182.40" y="864.20" font-size="29.3" text-anchor="middle" >10</text><text x="291.90" y="864.20" font-size="29.3" text-anchor="middle" >11</text><text x="395.10" y="864.20" font-size="29.3" text-anchor="middle" >12</text><text x="498.20" y="864.20" font-size="29.3" text-anchor="middle" >13</text><text x="593.60" y="864.20" font-size="29.3" text-anchor="middle" >14</text><text x="697.60" y="864.20" font-size="29.3" text-anchor="middle" >15</text><text x="800.80" y="864.20" font-size="29.3" text-anchor="middle" >16</text><line x1="983.40" y1="492.90" x2="983.40" y2="828.40" stroke="#1e1e1e" stroke-width="1.5"/><line x1="974.90" y1="819.90" x2="1609.30" y2="819.90" stroke="#1e1e1e" stroke-width="1.5"/><line x1="974.90" y1="819.90" x2="983.40" y2="819.90" stroke="#1e1e1e" stroke-width="1.5"/><line x1="974.90" y1="783.64" x2="983.40" y2="783.64" stroke="#1e1e1e" stroke-width="1.5"/><line x1="974.90" y1="747.39" x2="983.40" y2="747.39" stroke="#1e1e1e" stroke-width="1.5"/><line x1="974.90" y1="711.13" x2="983.40" y2="711.13" stroke="#1e1e1e" stroke-width="1.5"/><line x1="974.90" y1="674.88" x2="983.40" y2="674.88" stroke="#1e1e1e" stroke-width="1.5"/><line x1="974.90" y1="638.62" x2="983.40" y2="638.62" stroke="#1e1e1e" stroke-width="1.5"/><line x1="974.90" y1="602.37" x2="983.40" y2="602.37" stroke="#1e1e1e" stroke-width="1.5"/><line x1="974.90" y1="566.11" x2="983.40" y2="566.11" stroke="#1e1e1e" stroke-width="1.5"/><line x1="974.90" y1="529.86" x2="983.40" y2="529.86" stroke="#1e1e1e" stroke-width="1.5"/><line x1="974.90" y1="493.60" x2="983.40" y2="493.60" stroke="#1e1e1e" stroke-width="1.5"/><line x1="983.40" y1="819.90" x2="983.40" y2="828.40" stroke="#1e1e1e" stroke-width="1.5"/><line x1="1072.71" y1="819.90" x2="1072.71" y2="828.40" stroke="#1e1e1e" stroke-width="1.5"/><line x1="1162.03" y1="819.90" x2="1162.03" y2="828.40" stroke="#1e1e1e" stroke-width="1.5"/><line x1="1251.34" y1="819.90" x2="1251.34" y2="828.40" stroke="#1e1e1e" stroke-width="1.5"/><line x1="1340.66" y1="819.90" x2="1340.66" y2="828.40" stroke="#1e1e1e" stroke-width="1.5"/><line x1="1429.97" y1="819.90" x2="1429.97" y2="828.40" stroke="#1e1e1e" stroke-width="1.5"/><line x1="1519.29" y1="819.90" x2="1519.29" y2="828.40" stroke="#1e1e1e" stroke-width="1.5"/><line x1="1608.60" y1="819.90" x2="1608.60" y2="828.40" stroke="#1e1e1e" stroke-width="1.5"/><text x="958.60" y="828.90" font-size="29.3" text-anchor="end" >0</text><text x="958.60" y="792.64" font-size="29.3" text-anchor="end" >20</text><text x="958.60" y="756.39" font-size="29.3" text-anchor="end" >40</text><text x="958.60" y="720.13" font-size="29.3" text-anchor="end" >60</text><text x="958.60" y="683.88" font-size="29.3" text-anchor="end" >80</text><text x="958.60" y="647.62" font-size="29.3" text-anchor="end" >100</text><text x="958.60" y="611.37" font-size="29.3" text-anchor="end" >120</text><text x="958.60" y="575.11" font-size="29.3" text-anchor="end" >140</text><text x="958.60" y="538.86" font-size="29.3" text-anchor="end" >160</text><text x="958.60" y="502.60" font-size="29.3" text-anchor="end" >180</text><text x="1022.40" y="866.40" font-size="29.3" text-anchor="middle" >10</text><text x="1116.30" y="866.40" font-size="29.3" text-anchor="middle" >11</text><text x="1203.30" y="866.40" font-size="29.3" text-anchor="middle" >12</text><text x="1290.70" y="866.40" font-size="29.3" text-anchor="middle" >13</text><text x="1378.10" y="866.40" font-size="29.3" text-anchor="middle" >14</text><text x="1473.90" y="866.40" font-size="29.3" text-anchor="middle" >15</text><text x="1561.70" y="866.40" font-size="29.3" text-anchor="middle" >16</text><text x="1.40" y="36.40" font-size="42.5" font-weight="bold">A</text><text x="843.90" y="36.40" font-size="42.5" font-weight="bold">B</text><text x="4.60" y="463.40" font-size="42.5" font-weight="bold">C</text><text x="870.50" y="462.50" font-size="42.5" font-weight="bold">D</text><text x="416.60" y="454.00" font-size="29.4" textLength="190.2" lengthAdjust="spacingAndGlyphs">Speed (km·h<tspan font-size="19.5" dy="-8.3">-1</tspan><tspan dy="8.3">)</tspan></text><text x="1205.60" y="464.40" font-size="29.4" textLength="189.0" lengthAdjust="spacingAndGlyphs">Speed (km·h<tspan font-size="19.5" dy="-8.3">-1</tspan><tspan dy="8.3">)</tspan></text><text x="401.20" y="943.70" font-size="29.4" textLength="188.6" lengthAdjust="spacingAndGlyphs">Speed (km·h<tspan font-size="19.5" dy="-8.3">-1</tspan><tspan dy="8.3">)</tspan></text><text x="1202.60" y="938.60" font-size="29.4" textLength="189.1" lengthAdjust="spacingAndGlyphs">Speed (km·h<tspan font-size="19.5" dy="-8.3">-1</tspan><tspan dy="8.3">)</tspan></text><text transform="translate(70.70 370.00) rotate(-90)" font-size="30.3" textLength="349.5" lengthAdjust="spacingAndGlyphs">Gas exchange (ml·kg·min<tspan font-size="19.5" dy="-8.3">-1</tspan><tspan dy="8.3">)</tspan></text><text transform="translate(917.80 378.90) rotate(-90)" font-size="28.0" textLength="359.8" lengthAdjust="spacingAndGlyphs">Breathing rate (breaths·min<tspan font-size="19.5" dy="-8.3">-1</tspan><tspan dy="8.3">)</tspan></text><text transform="translate(1713.30 361.60) rotate(-90)" font-size="29.7" textLength="336.0" lengthAdjust="spacingAndGlyphs">Minute ventilation (L·min<tspan font-size="19.5" dy="-8.3">-1</tspan><tspan dy="8.3">)</tspan></text><text transform="translate(900.00 811.00) rotate(-90)" font-size="30.3" textLength="309.3" lengthAdjust="spacingAndGlyphs">Heart raate (beats·min<tspan font-size="19.5" dy="-8.3">-1</tspan><tspan dy="8.3">)</tspan></text><text transform="translate(46.8 823.8) rotate(-90)" font-size="30.2" textLength="325.5" lengthAdjust="spacingAndGlyphs">Respiratory exchane ratio</text><line x1="183.2" y1="37.9" x2="217.1" y2="37.9" stroke="#cecdce" stroke-width="3.2" stroke-linecap="round"/><text x="220.9" y="48.3" font-size="29.4" textLength="57" lengthAdjust="spacingAndGlyphs">VO2</text><text x="292.3" y="44.3" font-size="29.4" textLength="158.5" lengthAdjust="spacingAndGlyphs">(ml·kg·min<tspan font-size="19.5" dy="-8.3">-1</tspan><tspan dy="8.3">)</tspan></text><line x1="183.5" y1="80.8" x2="216.7" y2="80.8" stroke="#000" stroke-width="3.8" stroke-linecap="round"/><text x="220.8" y="91.2" font-size="29.4" textLength="76.5" lengthAdjust="spacingAndGlyphs">VCO2</text><text x="312.2" y="86.0" font-size="29.4" textLength="159.2" lengthAdjust="spacingAndGlyphs">(ml·kg·min<tspan font-size="19.5" dy="-8.3">-1</tspan><tspan dy="8.3">)</tspan></text><line x1="1018" y1="35.8" x2="1059" y2="35.8" stroke="#858585" stroke-width="3.4" stroke-linecap="round" stroke-dasharray="8.5 8"/><clipPath id="fq"><rect x="1190" y="0" width="140" height="45.3"/></clipPath><text x="1067.8" y="46.4" font-size="29.4" textLength="122.7" lengthAdjust="spacingAndGlyphs">Breathing</text><text x="1198" y="46.4" font-size="29.4" textLength="123.5" lengthAdjust="spacingAndGlyphs" clip-path="url(#fq)">frequency</text><text x="1336.3" y="44.1" font-size="29.4" textLength="184.5" lengthAdjust="spacingAndGlyphs">(breaths·min<tspan font-size="19.5" dy="-8.3">-1</tspan><tspan dy="8.3">)</tspan></text><line x1="1018.8" y1="74.2" x2="1063" y2="74.2" stroke="#000" stroke-width="3.8" stroke-linecap="round"/><text x="1068.4" y="84.8" font-size="29.4" textLength="130.5" lengthAdjust="spacingAndGlyphs">Ventilation</text><text x="1217.8" y="79.0" font-size="29.4" textLength="107.8" lengthAdjust="spacingAndGlyphs">(L·min<tspan font-size="19.5" dy="-8.3">-1</tspan><tspan dy="8.3">)</tspan></text><rect x="617.6" y="415.7" width="1.1" height="4.1" fill="#d2d2d2"/></svg>
</body></html>
